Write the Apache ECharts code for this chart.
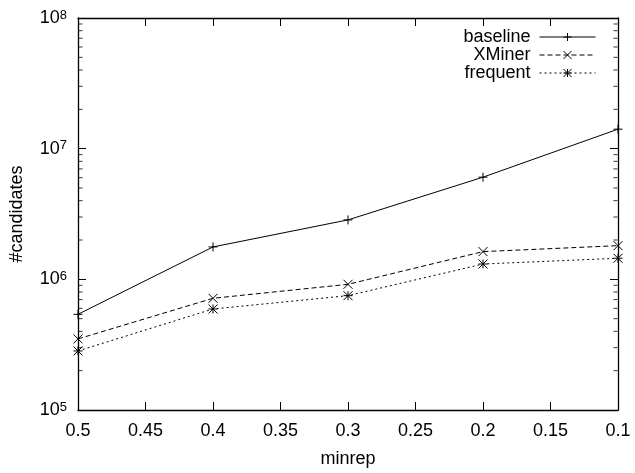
<!DOCTYPE html>
<html>
<head>
<meta charset="utf-8">
<script src="https://cdn.jsdelivr.net/npm/echarts@6/dist/echarts.min.js"></script>
<style>
  html, body { margin: 0; padding: 0; background: #fff; }
  #chart { width: 635px; height: 473px; }
</style>
</head>
<body>
<div id="chart"></div>
<script>
// minrep values on the x axis
var minrep = [0.5, 0.4, 0.3, 0.2, 0.1];
// #candidates per series
var baseline = [540000, 1770000, 2850000, 6050000, 14100000];
var xminer = [350000, 716000, 916000, 1630000, 1810000];
var frequent = [283000, 593000, 750000, 1310000, 1450000];
// minor ticks of the log axis (2..9 per decade)
var yMinorTicks = [];
[1e5, 1e6, 1e7].forEach(function (d) {
    for (var k = 2; k <= 9; k++) yMinorTicks.push(k * d);
});

var font = '"Liberation Sans", Arial, sans-serif';

// gnuplot style point markers, stroked only
var plusPath = 'path://M0,5L10,5M5,0L5,10';
var crossPath = 'path://M0,0L10,10M10,0L0,10';
var starPath = 'path://M0,5L10,5M5,0L5,10M0,0L10,10M10,0L0,10';

function pairs(xs, ys) {
    return xs.map(function (x, i) { return [x, ys[i]]; });
}

function makeSeries(name, values, symbol, size, dash) {
    return {
        name: name,
        type: 'line',
        data: pairs(minrep, values),
        symbol: symbol,
        symbolSize: size,
        showSymbol: true,
        animation: false,
        itemStyle: { color: '#000', borderColor: '#000', borderWidth: 1 },
        lineStyle: { color: '#000', width: 1, type: dash },
        emphasis: { disabled: true }
    };
}

// short inward tick marks on the left (x = 0.5) and right (x = 0.1) frame
function minorTickSeries(xVal, offset) {
    return {
        type: 'scatter',
        data: yMinorTicks.map(function (v) { return [xVal, v]; }),
        symbol: 'rect',
        symbolSize: [4, 1],
        symbolOffset: [offset, 0],
        itemStyle: { color: '#000' },
        silent: true,
        animation: false,
        clip: false,
        emphasis: { disabled: true }
    };
}

var chart = echarts.init(document.getElementById('chart'));

var xBase = {
    type: 'value',
    min: 0.1,
    max: 0.5,
    interval: 0.05,
    inverse: true,
    splitLine: { show: false },
    axisLine: { show: true, lineStyle: { color: '#000', width: 1.3 } },
    axisTick: { show: true, inside: true, length: 8, lineStyle: { color: '#000', width: 1 } }
};

var yBase = {
    type: 'log',
    logBase: 10,
    min: 1e5,
    max: 1e8,
    splitLine: { show: false },
    axisLine: { show: true, lineStyle: { color: '#000', width: 1.3 } },
    axisTick: { show: true, inside: true, length: 8, lineStyle: { color: '#000', width: 1 } }
};

function supLabel(v) {
    var e = Math.round(Math.log(v) / Math.LN10);
    return '{b|10}{s|' + e + '}';
}

var option = {
    backgroundColor: '#fff',
    textStyle: { fontFamily: font },
    grid: { left: 77, right: 17, top: 18, bottom: 63 },
    legend: {
        orient: 'vertical',
        right: 39,
        top: 28,
        padding: 0,
        align: 'right',
        itemWidth: 56,
        itemHeight: 10,
        itemGap: 0,
        selectedMode: false,
        lineStyle: { width: 1 },
        itemStyle: { borderWidth: 1 },
        textStyle: { fontSize: 18, color: '#000', fontFamily: font, padding: [0, 4, 0, 0] },
        data: ['baseline', 'XMiner', 'frequent']
    },
    xAxis: [
        Object.assign({}, xBase, {
            position: 'bottom',
            name: 'minrep',
            nameLocation: 'middle',
            nameGap: 40,
            nameTextStyle: { fontSize: 18, color: '#000', fontFamily: font },
            axisLabel: {
                fontSize: 18, color: '#000', margin: 12,
                formatter: function (v) { return String(+v.toFixed(2)); }
            }
        }),
        Object.assign({}, xBase, { position: 'top', axisLabel: { show: false } })
    ],
    yAxis: [
        Object.assign({}, yBase, {
            position: 'left',
            name: '#candidates',
            nameLocation: 'middle',
            nameGap: 52,
            nameRotate: 90,
            nameTextStyle: { fontSize: 18, color: '#000', fontFamily: font },
            axisLabel: {
                margin: 11,
                formatter: supLabel,
                rich: {
                    b: { fontSize: 18, color: '#000', fontFamily: font },
                    s: { fontSize: 13, color: '#000', fontFamily: font, padding: [0, 0, 6, 0] }
                }
            }
        }),
        Object.assign({}, yBase, { position: 'right', axisLabel: { show: false } })
    ],
    series: [
        makeSeries('baseline', baseline, plusPath, 9, 'solid'),
        makeSeries('XMiner', xminer, crossPath, 9, [5, 3]),
        makeSeries('frequent', frequent, starPath, 9, [2, 3]),
        minorTickSeries(0.5, 2.5),
        minorTickSeries(0.1, -2.5)
    ]
};

chart.setOption(option);
</script>
</body>
</html>
